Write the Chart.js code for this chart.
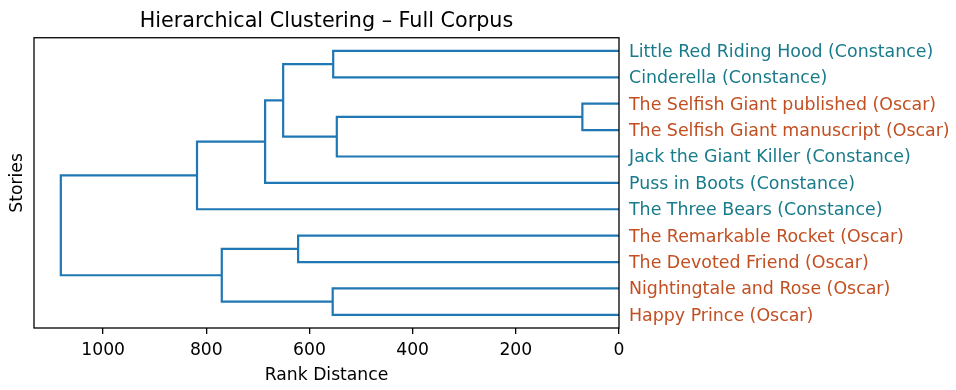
<!DOCTYPE html>
<html><head><meta charset="utf-8">
<script src="https://cdn.jsdelivr.net/npm/chart.js@4.4.1/dist/chart.umd.min.js"></script>
<style>html,body{margin:0;padding:0;background:#fff}</style>
</head><body>
<canvas id="c" width="956" height="390"></canvas>
<script>
// Leaves, top to bottom
const leafLabels = [
  'Little Red Riding Hood (Constance)',
  'Cinderella (Constance)',
  'The Selfish Giant published (Oscar)',
  'The Selfish Giant manuscript (Oscar)',
  'Jack the Giant Killer (Constance)',
  'Puss in Boots (Constance)',
  'The Three Bears (Constance)',
  'The Remarkable Rocket (Oscar)',
  'The Devoted Friend (Oscar)',
  'Nightingtale and Rose (Oscar)',
  'Happy Prince (Oscar)'
];
const leafAuthors = ['Constance','Constance','Oscar','Oscar','Constance','Constance','Constance','Oscar','Oscar','Oscar','Oscar'];
const leafPositions = [105, 95, 85, 75, 65, 55, 45, 35, 25, 15, 5];
// Merges (linkage): ids < 11 are leaves, id 11+k is merge k
const mergeLeft   = [2, 11, 0, 9, 7, 13, 16, 15, 17, 19];
const mergeRight  = [3, 4, 1, 10, 8, 12, 5, 14, 6, 18];
const mergeHeight = [71, 547, 554, 555, 622, 651, 686, 770, 818, 1082];
const xTickValues = [0, 200, 400, 600, 800, 1000];
const xMax = 1134;

const authorColors = {Constance: '#187b8b', Oscar: '#c24f22'};
const linkColor = '#1f77b4';
const FONT = 'DejaVu Sans';

const nodeY = leafPositions.slice();
const nodeH = leafPositions.map(() => 0);
const datasets = [];
for (let k = 0; k < mergeHeight.length; k++) {
  const a = mergeLeft[k], b = mergeRight[k], h = mergeHeight[k];
  datasets.push({
    data: [
      {x: nodeH[a], y: nodeY[a]},
      {x: h, y: nodeY[a]},
      {x: h, y: nodeY[b]},
      {x: nodeH[b], y: nodeY[b]}
    ],
    showLine: true,
    borderColor: linkColor,
    borderWidth: 2.2,
    pointRadius: 0,
    pointHoverRadius: 0,
    fill: false,
    tension: 0,
    clip: false
  });
  nodeY.push((nodeY[a] + nodeY[b]) / 2);
  nodeH.push(h);
}

const framePlugin = {
  id: 'frame',
  afterDraw(chart) {
    const {ctx, chartArea: a} = chart;
    ctx.save();
    ctx.strokeStyle = '#000';
    ctx.lineWidth = 1.3;
    ctx.strokeRect(a.left, a.top, a.right - a.left, a.bottom - a.top);
    ctx.restore();
  }
};

Chart.defaults.color = '#000';
Chart.defaults.font.family = FONT;

new Chart(document.getElementById('c'), {
  type: 'scatter',
  data: {datasets},
  plugins: [framePlugin],
  options: {
    responsive: false,
    animation: false,
    devicePixelRatio: 1,
    layout: {padding: 0},
    plugins: {
      legend: {display: false},
      tooltip: {enabled: false},
      title: {
        display: true,
        fullSize: false,
        text: 'Hierarchical Clustering – Full Corpus',
        color: '#000',
        font: {family: FONT, size: 20.7, weight: 'normal'},
        padding: {top: 9, bottom: 3.9}
      }
    },
    scales: {
      x: {
        type: 'linear',
        position: 'bottom',
        reverse: true,
        min: 0,
        max: xMax,
        afterBuildTicks: s => { s.ticks = xTickValues.map(v => ({value: v})); },
        afterFit: s => { s.height = 62; },
        ticks: {
          callback: v => String(v),
          font: {family: FONT, size: 17.2},
          color: '#000',
          padding: 6,
          maxRotation: 0,
          autoSkip: false
        },
        grid: {display: true, drawOnChartArea: false, drawTicks: true, tickLength: 6, color: '#000', lineWidth: 1.3},
        border: {display: false},
        title: {display: true, text: 'Rank Distance', color: '#000', font: {family: FONT, size: 17.2}, padding: {top: 0, bottom: 4.6}}
      },
      y: {
        type: 'linear',
        position: 'right',
        min: 0,
        max: 110,
        afterBuildTicks: s => { s.ticks = leafPositions.map(v => ({value: v})); },
        afterFit: s => { s.width = 337; },
        ticks: {
          callback: v => leafLabels[leafPositions.indexOf(v)],
          color: ctx => authorColors[leafAuthors[leafPositions.indexOf(ctx.tick.value)]] || '#000',
          font: {family: FONT, size: 17.4},
          padding: 10,
          labelOffset: 1.5,
          autoSkip: false
        },
        grid: {display: false, drawTicks: false, tickLength: 0},
        border: {display: false}
      },
      yl: {
        type: 'linear',
        position: 'left',
        min: 0,
        max: 110,
        afterFit: s => { s.width = 34; },
        ticks: {display: false},
        grid: {display: false, drawTicks: false, tickLength: 0},
        border: {display: false},
        title: {display: true, text: 'Stories', color: '#000', font: {family: FONT, size: 17.2}, padding: {top: 7.5, bottom: 0}}
      }
    }
  }
});
</script>
</body></html>
